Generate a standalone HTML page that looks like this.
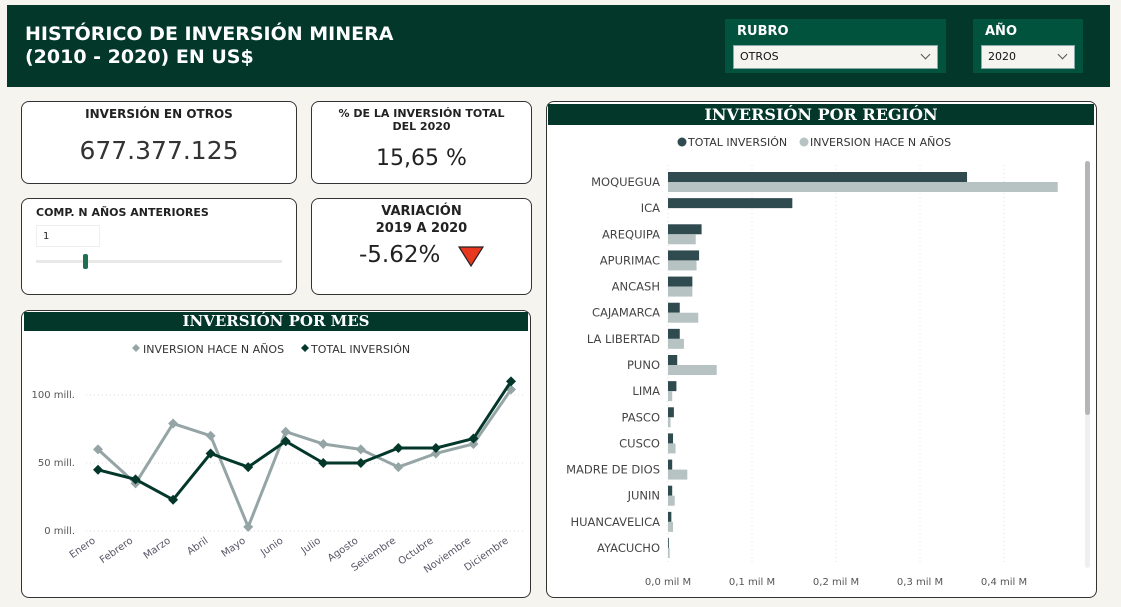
<!DOCTYPE html>
<html><head><meta charset="utf-8">
<style>
*{box-sizing:border-box;margin:0;padding:0}
body{width:1121px;height:607px;background:#f5f4ef;position:relative;overflow:hidden;font-family:"DejaVu Sans","Liberation Sans",sans-serif;color:#222}
.abs{position:absolute}
.card{position:absolute;background:#fff;border:1px solid #333;border-radius:8px}
.hdr{position:absolute;background:#02372a;color:#fff;font-family:"DejaVu Serif","Liberation Serif",serif;font-weight:bold;text-align:center}
.slbox{position:absolute;background:#02533d}
.sel{position:absolute;background:#f5f4ef;border:1px solid #8aa;font-size:11px;padding:4px 6px;color:#111}
.chev{position:absolute;right:8px;top:5px;width:7px;height:7px;border-right:1px solid #555;border-bottom:1px solid #555;transform:rotate(45deg)}
</style></head><body>
<div class="abs" style="left:7px;top:5px;width:1103px;height:82px;background:#02372a"></div>
<div class="abs" style="left:25px;top:23px;color:#fff;font-weight:bold;font-size:19px;line-height:23px">HISTÓRICO DE INVERSIÓN MINERA<br>(2010 - 2020) EN US$</div>

<div class="slbox" style="left:725px;top:19px;width:221px;height:54px"></div>
<div class="abs" style="left:737px;top:24px;color:#fff;font-weight:bold;font-size:13px">RUBRO</div>
<div class="sel" style="left:733px;top:45px;width:205px;height:24px">OTROS<span class="chev"></span></div>
<div class="slbox" style="left:973px;top:19px;width:110px;height:54px"></div>
<div class="abs" style="left:985px;top:24px;color:#fff;font-weight:bold;font-size:13px">AÑO</div>
<div class="sel" style="left:981px;top:45px;width:94px;height:24px">2020<span class="chev"></span></div>

<div class="card" style="left:21px;top:101px;width:276px;height:83px">
 <div style="text-align:center;font-weight:bold;font-size:12px;margin-top:5px">INVERSIÓN EN OTROS</div>
 <div style="text-align:center;font-size:25px;margin-top:15px;color:#333">677.377.125</div>
</div>
<div class="card" style="left:311px;top:101px;width:221px;height:83px">
 <div style="text-align:center;font-weight:bold;font-size:11px;line-height:13px;margin-top:5px">% DE LA INVERSIÓN TOTAL<br>DEL 2020</div>
 <div style="text-align:center;font-size:22px;margin-top:13px;color:#222">15,65 %</div>
</div>
<div class="card" style="left:21px;top:198px;width:276px;height:97px">
 <div style="position:absolute;left:14px;top:7px;font-weight:bold;font-size:11px">COMP. N AÑOS ANTERIORES</div>
 <div style="position:absolute;left:14px;top:26px;width:64px;height:22px;border:1px solid #eee;font-size:10px;padding:5px 6px">1</div>
 <div style="position:absolute;left:14px;top:61px;width:246px;height:3px;background:#e8e8e8"></div>
 <div style="position:absolute;left:61px;top:55px;width:5px;height:15px;background:#1e6e50;border-radius:2px"></div>
</div>
<div class="card" style="left:311px;top:198px;width:221px;height:97px">
 <div style="text-align:center;font-weight:bold;font-size:13px;line-height:17px;margin-top:4px">VARIACIÓN<br>2019 A 2020</div>
 <div style="position:absolute;left:47px;top:43px;font-size:23px;color:#222">-5.62%</div>
 <svg style="position:absolute;left:146px;top:47px" width="26" height="22"><polygon points="1,1 25,1 13,20" fill="#e8381f" stroke="#222" stroke-width="1.2"/></svg>
</div>

<div class="card" style="left:21px;top:310px;width:510px;height:288px"></div>
<div class="hdr" style="left:24px;top:312px;width:504px;height:19px;font-size:15px;line-height:19px">INVERSIÓN POR MES</div>
<svg id="mes" class="abs" style="left:0;top:0" width="1121" height="607"></svg>

<div class="card" style="left:546px;top:101px;width:551px;height:497px"></div>
<div class="hdr" style="left:548px;top:104px;width:546px;height:21px;font-size:16px;line-height:21px">INVERSIÓN POR REGIÓN</div>
<svg id="reg" class="abs" style="left:0;top:0" width="1121" height="607"></svg>
<div class="abs" style="left:1085px;top:161px;width:5px;height:407px;background:#efefef;border-radius:3px"></div>
<div class="abs" style="left:1085px;top:161px;width:5px;height:254px;background:#b5b5b5;border-radius:3px"></div>

<script>
const NS="http://www.w3.org/2000/svg";
function mk(svg,t,a,txt){const e=document.createElementNS(NS,t);for(const k in a)e.setAttribute(k,a[k]);if(txt!=null)e.textContent=txt;svg.appendChild(e);return e;}

// ---- Line chart data ----
const months=["Enero","Febrero","Marzo","Abril","Mayo","Junio","Julio","Agosto","Setiembre","Octubre","Noviembre","Diciembre"];
const haceN=[60,35,79,70,3,73,64,60,47,57,64,104];
const totalInv=[45,38,23,57,47,66,50,50,61,61,68,110];
const yTicks=[0,50,100];
const yTickLabels=["0 mill.","50 mill.","100 mill."];

const m=document.getElementById('mes');
const mx=i=>98+i*(511-98)/(months.length-1);
const my=v=>531-v*(531-395)/100;
yTicks.forEach((t,i)=>{
 const g=mk(m,'line',{x1:86,x2:525,y1:my(t),y2:my(t),stroke:'#ddd','stroke-dasharray':'1,3'});
 
 const l=mk(m,'text',{x:75,y:my(t)+3,'text-anchor':'end','font-size':10,fill:'#555'},yTickLabels[i]);
 
});
months.forEach((mo,i)=>{
 const l=mk(m,'text',{x:mx(i)-2,y:542,'text-anchor':'end','font-size':10,fill:'#556','transform':`rotate(-35 ${mx(i)-2} 542)`},mo);
 
});
function series(vals,col,name){
 const p=mk(m,'polyline',{points:vals.map((v,i)=>mx(i)+','+my(v)).join(' '),fill:'none',stroke:col,'stroke-width':3,'stroke-linejoin':'round'});
 
 vals.forEach((v,i)=>{const x=mx(i),y=my(v);
  const d=mk(m,'polygon',{points:`${x},${y-5} ${x+5},${y} ${x},${y+5} ${x-5},${y}`,fill:col});
  });
}
series(haceN,'#95a5a6','hace-n-anios');
series(totalInv,'#02372a','total-inversion');
// legend
let lg=mk(m,'polygon',{points:'136,344 140,348 136,352 132,348',fill:'#95a5a6'});

lg=mk(m,'text',{x:143,y:353,'font-size':11,fill:'#333'},'INVERSION HACE N AÑOS');

lg=mk(m,'polygon',{points:'305,344 309,348 305,352 301,348',fill:'#02372a'});

lg=mk(m,'text',{x:311,y:353,'font-size':11,fill:'#333'},'TOTAL INVERSIÓN');


// ---- Bar chart data ----
const regions=["MOQUEGUA","ICA","AREQUIPA","APURIMAC","ANCASH","CAJAMARCA","LA LIBERTAD","PUNO","LIMA","PASCO","CUSCO","MADRE DE DIOS","JUNIN","HUANCAVELICA","AYACUCHO"];
const regTotal=[0.356,0.148,0.040,0.037,0.029,0.014,0.014,0.011,0.010,0.007,0.006,0.005,0.005,0.004,0.001];
const regHace=[0.464,0,0.033,0.034,0.029,0.036,0.019,0.058,0.005,0.003,0.009,0.023,0.008,0.006,0.002];
const xTicks=[0,0.1,0.2,0.3,0.4];
const xTickLabels=["0,0 mil M","0,1 mil M","0,2 mil M","0,3 mil M","0,4 mil M"];

const r=document.getElementById('reg');
const rx=v=>668+v*840;
const ry=i=>182+i*(548-182)/(regions.length-1);
xTicks.forEach((t,i)=>{
 const g=mk(r,'line',{x1:rx(t),x2:rx(t),y1:165,y2:565,stroke:'#ddd','stroke-dasharray':'1,3'});
 
 const l=mk(r,'text',{x:rx(t),y:585,'text-anchor':'middle','font-size':10,fill:'#555'},xTickLabels[i]);
 
});
regions.forEach((n,i)=>{
 const l=mk(r,'text',{x:660,y:ry(i)+4,'text-anchor':'end','font-size':11.5,fill:'#444'},n);
 
 const b1=mk(r,'rect',{x:rx(0),y:ry(i)-10,width:rx(regTotal[i])-rx(0),height:10,fill:'#2f4b50'});
 
 const b2=mk(r,'rect',{x:rx(0),y:ry(i),width:rx(regHace[i])-rx(0),height:10,fill:'#b7c3c3'});
 
});
lg=mk(r,'circle',{cx:682,cy:142,r:4.5,fill:'#2f4b50'});

lg=mk(r,'text',{x:688,y:146,'font-size':11,fill:'#333'},'TOTAL INVERSIÓN');

lg=mk(r,'circle',{cx:804,cy:142,r:4.5,fill:'#b7c3c3'});

lg=mk(r,'text',{x:810,y:146,'font-size':11,fill:'#333'},'INVERSION HACE N AÑOS');

</script>
</body></html>
